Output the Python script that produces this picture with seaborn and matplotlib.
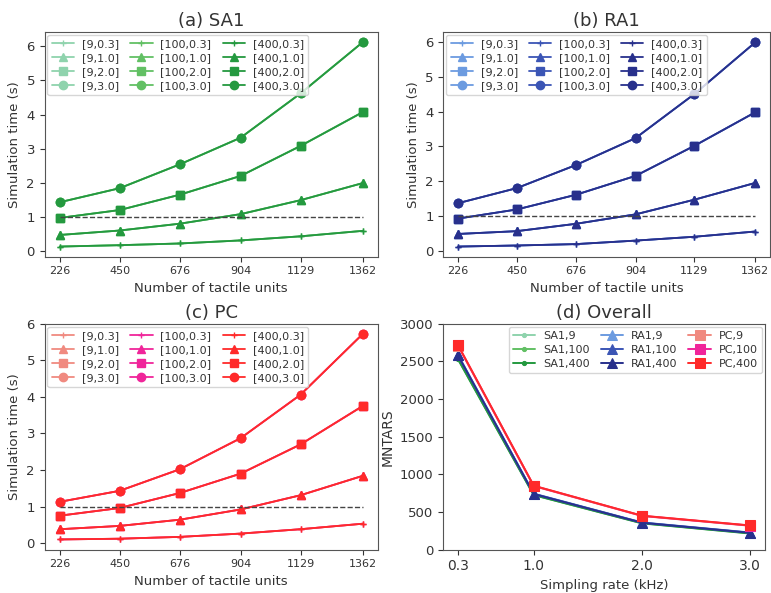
import numpy as np
import pandas as pd
import matplotlib
matplotlib.use("Agg")
import matplotlib.pyplot as plt
import seaborn as sns

# ---------------- data ----------------
units = [226, 450, 676, 904, 1129, 1362]
unit_labels = ["226", "450", "676", "904", "1129", "1362"]
neurons = [9, 100, 400]
rates = ["0.3", "1.0", "2.0", "3.0"]

# SA1 simulation time (s) per rate (rows) and number of units (cols); nearly identical for 9/100/400
sa1_03 = [0.13, 0.17, 0.22, 0.31, 0.43, 0.59]
sa1_10 = [0.47, 0.60, 0.80, 1.08, 1.49, 1.99]
sa1_20 = [0.97, 1.20, 1.65, 2.20, 3.08, 4.07]
sa1_30 = [1.43, 1.84, 2.54, 3.32, 4.62, 6.12]

ra1_03 = [0.14, 0.17, 0.21, 0.31, 0.42, 0.57]
ra1_10 = [0.50, 0.58, 0.79, 1.06, 1.48, 1.96]
ra1_20 = [0.94, 1.20, 1.62, 2.16, 3.02, 3.98]
ra1_30 = [1.38, 1.81, 2.47, 3.24, 4.50, 5.98]

pc_03 = [0.10, 0.12, 0.17, 0.26, 0.38, 0.53]
pc_10 = [0.38, 0.47, 0.64, 0.92, 1.31, 1.84]
pc_20 = [0.75, 0.96, 1.37, 1.90, 2.70, 3.75]
pc_30 = [1.13, 1.43, 2.02, 2.87, 4.06, 5.72]

# Overall: MNTARS vs sampling rate
rate_vals = [0.3, 1.0, 2.0, 3.0]
rate_labels = ["0.3", "1.0", "2.0", "3.0"]
sa1_9 = [2540, 730, 355, 220]
sa1_100 = [2535, 728, 352, 218]
sa1_400 = [2530, 725, 350, 215]
ra1_9 = [2590, 745, 362, 228]
ra1_100 = [2585, 742, 360, 226]
ra1_400 = [2580, 740, 358, 224]
pc_9 = [2710, 845, 448, 318]
pc_100 = [2715, 848, 450, 320]
pc_400 = [2720, 850, 452, 322]

threshold = 1.0

# ---------------- style ----------------
sns.set_style("ticks")
plt.rcParams["font.family"] = ["DejaVu Sans"]
plt.rcParams["text.color"] = "#333333"
plt.rcParams["axes.labelcolor"] = "#333333"
plt.rcParams["xtick.color"] = "#333333"
plt.rcParams["ytick.color"] = "#333333"
plt.rcParams["axes.edgecolor"] = "#555555"

rate_markers = {"0.3": "+", "1.0": "^", "2.0": "s", "3.0": "o"}
rate_msize = {"0.3": 5, "1.0": 6, "2.0": 6, "3.0": 6}

pal = {
    "SA1": ["#8fd3ad", "#62c064", "#24993f"],
    "RA1": ["#6c9be0", "#3b55b5", "#28308c"],
    "PC": ["#f08a80", "#f0259a", "#ff2a2a"],
}

fig = plt.figure(figsize=(7.71, 5.93), dpi=100)

leg_kw = dict(ncol=3, fontsize=8, handlelength=2.0, columnspacing=1.0,
              labelspacing=0.35, borderpad=0.4, handletextpad=0.7,
              framealpha=0.8, borderaxespad=0.25)

def sim_panel(rect, title, series, colors):
    ax = fig.add_axes(rect)
    for ni, n in enumerate(neurons):
        for r, vals in zip(rates, series):
            df = pd.DataFrame({"units": units, "time": vals})
            sns.lineplot(data=df, x="units", y="time", ax=ax, color=colors[ni],
                         marker=rate_markers[r], markersize=rate_msize[r],
                         markeredgecolor=colors[ni], markeredgewidth=1.0,
                         linewidth=1.3, label=f"[{n},{r}]")
    ax.hlines(threshold, units[0], units[-1], colors="#444444", linestyles="--", linewidth=1.0)
    ax.set_xticks(units)
    ax.set_xticklabels(unit_labels, fontsize=8)
    ax.tick_params(axis="y", labelsize=9.5)
    ax.set_xlabel("Number of tactile units", fontsize=9.5)
    ax.set_ylabel("Simulation time (s)", fontsize=9.5)
    ax.set_title(title, fontsize=13, pad=4)
    ax.legend(loc="upper left", **leg_kw)
    return ax

sim_panel([0.058, 0.567, 0.432, 0.379], "(a) SA1", [sa1_03, sa1_10, sa1_20, sa1_30], pal["SA1"])
sim_panel([0.575, 0.567, 0.424, 0.379], "(b) RA1", [ra1_03, ra1_10, ra1_20, ra1_30], pal["RA1"])
sim_panel([0.058, 0.073, 0.432, 0.381], "(c) PC", [pc_03, pc_10, pc_20, pc_30], pal["PC"])

ax = fig.add_axes([0.575, 0.073, 0.417, 0.381])
overall = [
    ("SA1", [sa1_9, sa1_100, sa1_400], "."),
    ("RA1", [ra1_9, ra1_100, ra1_400], "^"),
    ("PC", [pc_9, pc_100, pc_400], "s"),
]
for name, groups, mk in overall:
    for ni, vals in enumerate(groups):
        df = pd.DataFrame({"rate": rate_vals, "mntars": vals})
        sns.lineplot(data=df, x="rate", y="mntars", ax=ax, color=pal[name][ni],
                     marker=mk, markersize=7 if mk != "." else 6,
                     markeredgecolor=pal[name][ni], linewidth=1.4,
                     label=f"{name},{neurons[ni]}")
ax.set_ylim(0, 3000)
ax.set_xticks(rate_vals)
ax.set_xticklabels(rate_labels, fontsize=10)
ax.tick_params(axis="y", labelsize=9.5)
ax.set_xlabel("Simpling rate (kHz)", fontsize=9.5)
ax.set_ylabel("MNTARS", fontsize=10)
ax.set_title("(d) Overall", fontsize=13, pad=4)
ax.legend(loc="upper right", **leg_kw)

fig.savefig("out.png", dpi=100)
